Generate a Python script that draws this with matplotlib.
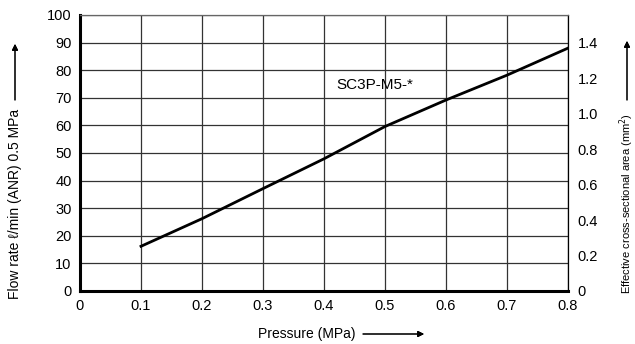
import matplotlib.pyplot as plt
import numpy as np

plt.rcParams['font.family'] = ['Liberation Sans', 'DejaVu Sans']

# data
pressure = [0.1, 0.2, 0.3, 0.4, 0.5, 0.6, 0.7, 0.8]
flow = [16.2, 26.2, 37.1, 47.9, 59.6, 69.2, 78.2, 88.0]
flow_ticks = [0, 10, 20, 30, 40, 50, 60, 70, 80, 90, 100]
pressure_ticks = [0, 0.1, 0.2, 0.3, 0.4, 0.5, 0.6, 0.7, 0.8]
area_ticks = [0, 0.2, 0.4, 0.6, 0.8, 1.0, 1.2, 1.4]
area_labels = ['0', '0.2', '0.4', '0.6', '0.8', '1.0', '1.2', '1.4']
area_max = 1.4 * 100 / 90.0  # 1.4 sits on the 90 line

W, H = 635, 344


def fx(px):
    return px / W


def fy(py):
    return 1 - py / H


fig = plt.figure(figsize=(6.35, 3.44), dpi=100)
ax = fig.add_axes([fx(80), fy(291), 488 / W, 276 / H])

ax.plot(pressure, flow, color='black', lw=2.0, zorder=3)

ax.set_xlim(0, 0.8)
ax.set_ylim(0, 100)
ax.set_xticks(pressure_ticks)
ax.set_xticklabels(['0'] + ['%.1f' % p for p in pressure_ticks[1:]])
ax.set_yticks(flow_ticks)
ax.grid(True, color='#333333', lw=0.9)
ax.tick_params(length=0, labelsize=10.5, pad=6)
for s in ['left', 'bottom']:
    ax.spines[s].set_linewidth(2.2)
ax.spines['top'].set_linewidth(0.9)
ax.spines['top'].set_color('#666666')
ax.spines['right'].set_linewidth(0.9)

ax2 = ax.twinx()
ax2.set_ylim(0, area_max)
ax2.set_yticks(area_ticks)
ax2.set_yticklabels(area_labels)
ax2.tick_params(length=0, labelsize=10.5, pad=7)
for s in ax2.spines.values():
    s.set_visible(False)

ax.text(0.421, 74.6, 'SC3P-M5-*', fontsize=11, va='center', ha='left')

arrow = dict(arrowstyle='-|>', color='black', lw=0.8,
             mutation_scale=9, shrinkA=0, shrinkB=0)

# axis titles with arrows
fig.text(fx(15), fy(204), 'Flow rate ℓ/min (ANR) 0.5 MPa', rotation=90,
         fontsize=10, ha='center', va='center')
fig.add_artist(plt.annotate('', xy=(fx(15), fy(44)), xytext=(fx(15), fy(100)),
                            xycoords='figure fraction', arrowprops=arrow))

fig.text(fx(627), fy(203), 'Effective cross-sectional area (mm$^2$)',
         rotation=90, fontsize=8, ha='center', va='center',
         family=['Liberation Sans Narrow', 'Liberation Sans'])
fig.add_artist(plt.annotate('', xy=(fx(627), fy(41)), xytext=(fx(627), fy(100)),
                            xycoords='figure fraction', arrowprops=arrow))

fig.text(fx(307), fy(334), 'Pressure (MPa)', fontsize=10,
         ha='center', va='center')
fig.add_artist(plt.annotate('', xy=(fx(424), fy(334)), xytext=(fx(363), fy(334)),
                            xycoords='figure fraction', arrowprops=arrow))

fig.savefig('out.png', dpi=100)
